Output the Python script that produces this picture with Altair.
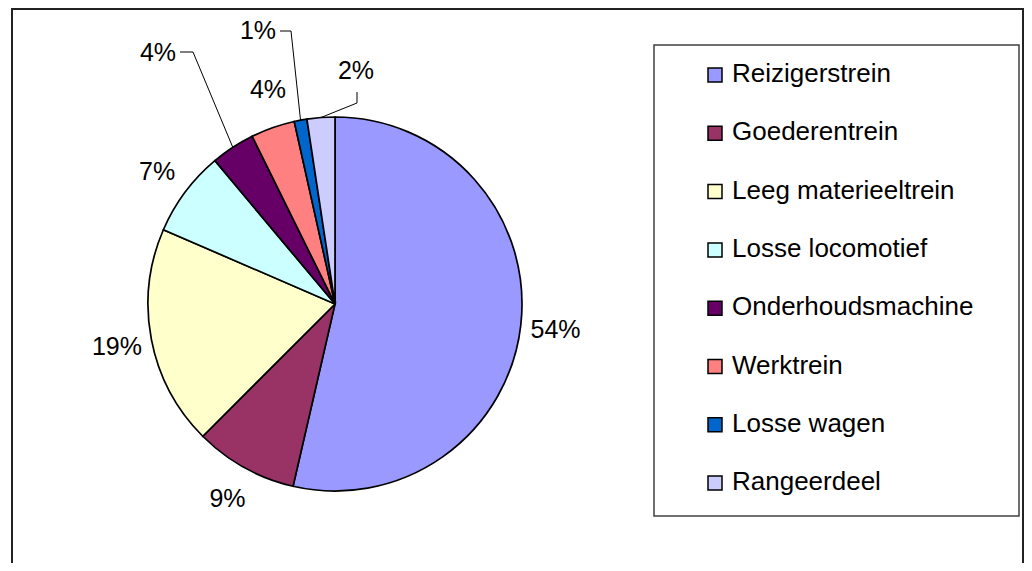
import math
import altair as alt
import pandas as pd

# ---------------- data ----------------
categories = ["Reizigerstrein", "Goederentrein", "Leeg materieeltrein", "Losse locomotief",
              "Onderhoudsmachine", "Werktrein", "Losse wagen", "Rangeerdeel"]
values = [53.6, 8.9, 19.0, 7.4, 3.8, 3.8, 1.1, 2.4]
labels = ["54%", "9%", "19%", "7%", "4%", "4%", "1%", "2%"]
colors = ["#9999FF", "#993366", "#FFFFCC", "#CCFFFF", "#660066", "#FF8080", "#0066CC", "#CCCCFF"]

# ---------------- layout (page pixels) ----------------
M = 8
W, H = 1016, 555
CX, CY, R = 335, 304, 187
LABEL_R = 222
FONT = "Liberation Sans"
FS = 25
LEG_FS = 26

label_override = {"Onderhoudsmachine": (158, 52), "Werktrein": (268, 89),
                  "Losse wagen": (258, 30), "Rangeerdeel": (356, 70)}
leader_pts = {"Onderhoudsmachine": [(180, 52), (193, 52)],
              "Losse wagen": [(280, 31), (291, 31)],
              "Rangeerdeel": [(357, 92), (357, 103)]}

LEG_X0, LEG_Y0, LEG_X1, LEG_Y1 = 654, 45, 1019, 516
LEG_SYM_X, LEG_TXT_X, LEG_ROW0, LEG_STEP = 708, 732, 75, 58.3

total = sum(values)
cum = 0.0
label_rows, leader_rows, legend_rows, pie_rows = [], [], [], []
for i, (c, v, lab) in enumerate(zip(categories, values, labels)):
    mid = (cum + v / 2) / total * 2 * math.pi
    cum += v
    pie_rows.append({"cat": c, "value": v, "idx": i})
    if c in label_override:
        lx, ly = label_override[c]
    else:
        lx = CX + LABEL_R * math.sin(mid)
        ly = CY - LABEL_R * math.cos(mid)
    label_rows.append({"label": lab, "x": lx - M, "y": ly + 9 - M})
    if c in leader_pts:
        pts = leader_pts[c] + [(CX + R * math.sin(mid), CY - R * math.cos(mid))]
        for k, (px, py) in enumerate(pts):
            leader_rows.append({"cat": c, "k": k, "x": px - M, "y": py - M})
    sy = LEG_ROW0 + LEG_STEP * i
    legend_rows.append({"cat": c, "x": LEG_SYM_X - M, "x2": LEG_SYM_X + 14 - M,
                        "y": sy - 7 - M, "y2": sy + 7 - M,
                        "tx": LEG_TXT_X - M, "ty": sy + 7 - M})

pie_df = pd.DataFrame(pie_rows)
label_df = pd.DataFrame(label_rows)
leader_df = pd.DataFrame(leader_rows)
legend_df = pd.DataFrame(legend_rows)
one = pd.DataFrame({"a": [0]})

xs = alt.Scale(domain=[0, W], range=[0, W])
ys = alt.Scale(domain=[0, H], range=[0, H])
cscale = alt.Scale(domain=categories, range=colors)

frame = alt.Chart(one).mark_rect(fill="white", stroke="#222222", strokeWidth=2).encode(
    x=alt.value(12 - M), x2=alt.value(W - 1), y=alt.value(1), y2=alt.value(H + 40))

legbox = alt.Chart(one).mark_rect(fill="white", stroke="#404040", strokeWidth=1.5).encode(
    x=alt.value(LEG_X0 - M), x2=alt.value(LEG_X1 - M),
    y=alt.value(LEG_Y0 - M), y2=alt.value(LEG_Y1 - M))

pie = alt.Chart(pie_df).mark_arc(radius=R, stroke="black", strokeWidth=1.7).encode(
    theta=alt.Theta("value:Q", stack=True),
    order=alt.Order("idx:Q"),
    color=alt.Color("cat:N", scale=cscale, legend=None),
    x=alt.value(CX - M), y=alt.value(CY - M))

leaders = alt.Chart(leader_df).mark_line(color="black", strokeWidth=1).encode(
    x=alt.X("x:Q", scale=xs, axis=None),
    y=alt.Y("y:Q", scale=ys, axis=None),
    detail="cat:N", order="k:Q")

plabels = alt.Chart(label_df).mark_text(font=FONT, fontSize=FS, color="black",
                                         align="center", baseline="alphabetic").encode(
    x=alt.X("x:Q", scale=xs, axis=None),
    y=alt.Y("y:Q", scale=ys, axis=None),
    text="label:N")

legsym = alt.Chart(legend_df).mark_rect(stroke="black", strokeWidth=1.5).encode(
    x=alt.X("x:Q", scale=xs, axis=None), x2="x2:Q",
    y=alt.Y("y:Q", scale=ys, axis=None), y2="y2:Q",
    color=alt.Color("cat:N", scale=cscale, legend=None))

legtxt = alt.Chart(legend_df).mark_text(font=FONT, fontSize=LEG_FS, color="black",
                                         align="left", baseline="alphabetic").encode(
    x=alt.X("tx:Q", scale=xs, axis=None),
    y=alt.Y("ty:Q", scale=ys, axis=None),
    text="cat:N")

chart = alt.layer(frame, legbox, pie, leaders, plabels, legsym, legtxt).properties(
    width=W, height=H, autosize=alt.AutoSizeParams(type="none"), padding=0
).configure_view(stroke=None)

chart.save("out.html", embed_options={"renderer": "svg", "actions": False})
